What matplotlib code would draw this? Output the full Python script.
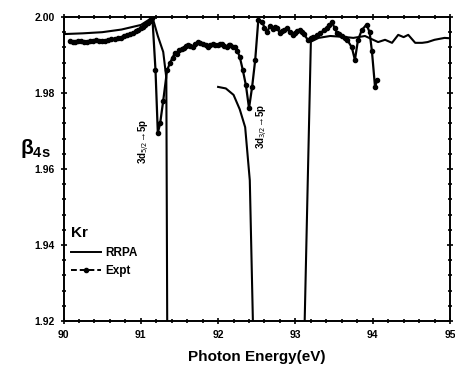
import numpy as np
import matplotlib
matplotlib.use("Agg")
import matplotlib.pyplot as plt
from matplotlib.ticker import MultipleLocator, FormatStrFormatter
from matplotlib.lines import Line2D

plt.rcParams['font.family'] = ['Liberation Sans', 'DejaVu Sans']

# RRPA theory (NaN = off-scale gap)
rrpa_x = [90.00, 90.25, 90.50, 90.75, 91.00, 91.10, 91.15, 91.22, 91.29, 91.33, 91.345, np.nan,
          92.00, 92.10, 92.20, 92.28, 92.35, 92.41, 92.45, 92.46, np.nan,
          93.10, 93.12, 93.16, 93.20, 93.30, 93.45, 93.60, 93.75, 93.90, 94.07, 94.16, 94.25,
          94.33, 94.40, 94.46, 94.55, 94.64, 94.71, 94.80, 94.93, 95.00]
rrpa_y = [1.9955, 1.9957, 1.9960, 1.9967, 1.9979, 1.9992, 2.0000, 1.9950, 1.9908, 1.9840, 1.9000, np.nan,
          1.9816, 1.9812, 1.9795, 1.9757, 1.9710, 1.9570, 1.9200, 1.9000, np.nan,
          1.9000, 1.9200, 1.9570, 1.9935, 1.9945, 1.9950, 1.9948, 1.9945, 1.9950, 1.9934, 1.9940, 1.9932,
          1.9953, 1.9947, 1.9953, 1.9932, 1.9932, 1.9934, 1.9940, 1.9945, 1.9944]

# Experiment
expt_x = [90.08, 90.12, 90.15, 90.19, 90.22, 90.26, 90.30, 90.34, 90.38, 90.42, 90.46, 90.50,
          90.54, 90.58, 90.62, 90.66, 90.70, 90.74, 90.78, 90.82, 90.86, 90.90, 90.94, 90.97,
          91.00, 91.03, 91.06, 91.09, 91.12, 91.15, 91.19, 91.22, 91.25, 91.29, 91.34, 91.38,
          91.41, 91.44, 91.47, 91.50, 91.53, 91.56, 91.59, 91.61, 91.64, 91.67, 91.70, 91.74,
          91.77, 91.80, 91.84, 91.87, 91.90, 91.93, 91.96, 92.00, 92.03, 92.05, 92.08, 92.11,
          92.14, 92.16, 92.19, 92.22, 92.25, 92.28, 92.32, 92.36, 92.40, 92.44, 92.48, 92.52,
          92.57, 92.60, 92.63, 92.67, 92.71, 92.74, 92.76, 92.80, 92.83, 92.85, 92.89, 92.93,
          92.97, 93.00, 93.02, 93.06, 93.09, 93.11, 93.16, 93.20, 93.23, 93.28, 93.32, 93.37,
          93.41, 93.44, 93.47, 93.51, 93.54, 93.57, 93.60, 93.64, 93.67, 93.73, 93.77, 93.81,
          93.86, 93.92, 93.96, 93.99, 94.03, 94.06]
expt_y = [1.9936, 1.9934, 1.9935, 1.9938, 1.9937, 1.9935, 1.9934, 1.9937, 1.9936, 1.9939, 1.9938, 1.9936,
          1.9937, 1.9940, 1.9941, 1.9943, 1.9945, 1.9946, 1.9950, 1.9952, 1.9956, 1.9958, 1.9963, 1.9965,
          1.9970, 1.9974, 1.9978, 1.9985, 1.9990, 1.9998, 1.9860, 1.9695, 1.9720, 1.9780, 1.9860, 1.9880,
          1.9893, 1.9905, 1.9902, 1.9912, 1.9916, 1.9918, 1.9924, 1.9926, 1.9923, 1.9922, 1.9929, 1.9934,
          1.9932, 1.9930, 1.9927, 1.9922, 1.9926, 1.9928, 1.9927, 1.9926, 1.9930, 1.9928, 1.9924, 1.9922,
          1.9926, 1.9925, 1.9922, 1.9920, 1.9910, 1.9895, 1.9860, 1.9820, 1.9760, 1.9816, 1.9887, 1.9992,
          1.9987, 1.9972, 1.9960, 1.9975, 1.9968, 1.9974, 1.9972, 1.9958, 1.9962, 1.9966, 1.9970, 1.9960,
          1.9953, 1.9958, 1.9962, 1.9966, 1.9960, 1.9955, 1.9940, 1.9944, 1.9947, 1.9952, 1.9958, 1.9965,
          1.9970, 1.9978, 1.9987, 1.9970, 1.9958, 1.9955, 1.9950, 1.9946, 1.9940, 1.9920, 1.9887, 1.9940,
          1.9966, 1.9980, 1.9960, 1.9910, 1.9816, 1.9835]

xticks = [90, 91, 92, 93, 94, 95]
yticks = [1.92, 1.94, 1.96, 1.98, 2.00]

fig = plt.figure(figsize=(4.55, 3.67), dpi=100)
ax = fig.add_axes([0.1396, 0.1253, 0.8494, 0.8284])

ax.plot(rrpa_x, rrpa_y, color='black', lw=1.5)
ax.plot(expt_x, expt_y, color='black', lw=1.6, ls='-', marker='o', ms=3.0)

ax.set_xlim(90, 95)
ax.set_ylim(1.92, 2.00)
ax.set_xticks(xticks)
ax.set_yticks(yticks)
ax.xaxis.set_minor_locator(MultipleLocator(0.2))
ax.yaxis.set_minor_locator(MultipleLocator(0.004))
ax.yaxis.set_major_formatter(FormatStrFormatter('%.2f'))
ax.tick_params(which='both', direction='inout', top=True, right=True, width=1.2)
ax.tick_params(which='major', length=5, labelsize=7.5, pad=4)
ax.tick_params(which='minor', length=3)
for lab in ax.get_xticklabels() + ax.get_yticklabels():
    lab.set_fontweight('bold')
for s in ax.spines.values():
    s.set_linewidth(1.4)

ax.set_xlabel('Photon Energy(eV)', fontsize=11, fontweight='bold', labelpad=7)
fig.text(0.045, 0.595, r'$\mathregular{\beta_{4s}}$', fontsize=15, ha='left', va='center',
         fontweight='bold')

ax.text(91.05, 1.9672, r'3d$_{5/2}$→5p', rotation=90, fontsize=7, fontweight='bold',
        ha='center', va='center')
ax.text(92.58, 1.9712, r'3d$_{3/2}$→5p', rotation=90, fontsize=7, fontweight='bold',
        ha='center', va='center')

handles = [Line2D([], [], color='black', lw=1.4),
           Line2D([], [], color='black', lw=1.4, ls='--', dashes=(3, 1.5), marker='o', ms=3)]
leg = ax.legend(handles, ['RRPA', 'Expt'], loc='upper left', bbox_to_anchor=(0.0, 0.335),
                frameon=False, title='Kr', fontsize=8.5, handlelength=2.6, handletextpad=0.3,
                numpoints=1, borderaxespad=0.2, labelspacing=0.55)
leg.get_title().set_fontweight('bold')
leg.get_title().set_fontsize(11)
leg._legend_box.align = 'left'
for t in leg.get_texts():
    t.set_fontweight('bold')

fig.savefig('out.png', dpi=100)
